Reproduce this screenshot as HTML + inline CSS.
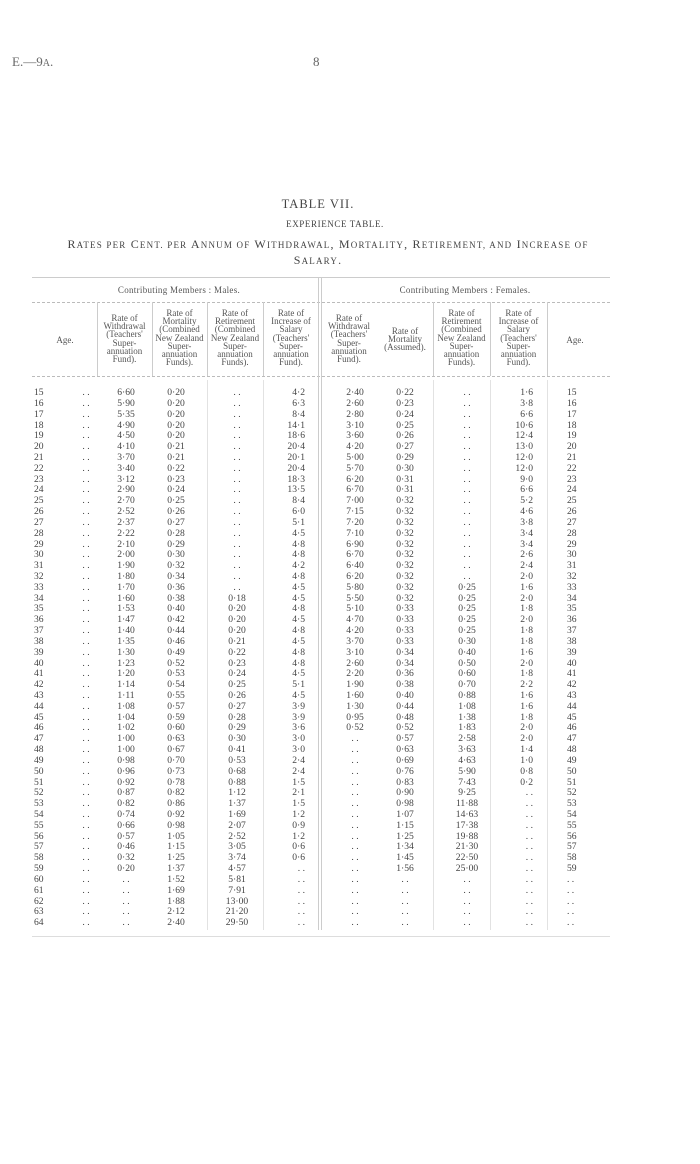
<!DOCTYPE html>
<html><head><meta charset="utf-8"><style>
body{margin:0;background:#fff;}
#p{position:relative;width:700px;height:1164px;background:#fff;font-family:"Liberation Serif",serif;color:#444;overflow:hidden}
.a{position:absolute;white-space:nowrap}
.r{position:absolute;left:0;width:700px;height:11px;font-size:9.6px;line-height:11px}
.r span{position:absolute;text-align:center;top:0}
.c0{left:34px;width:20px;text-align:left!important}
.c1{left:78px;width:16px}
.c2{left:103px;width:46px}
.c3{left:153px;width:46px}
.c4{left:214px;width:46px}
.c5{left:255px;width:50px;text-align:right!important}
.c6{left:331px;width:48px}
.c7{left:381px;width:48px}
.c8{left:443px;width:48px}
.c9{left:483px;width:50px;text-align:right!important}
.c10{left:567px;width:20px;text-align:left!important}
.h{position:absolute;font-size:9px;line-height:8.2px;text-align:center;color:#555;white-space:nowrap}
.hl{position:absolute;height:0;border-top:1px dashed #bbb}
.vl{position:absolute;width:0;border-left:1px solid #ccc}
.sc{font-size:9px}
</style></head><body><div id="p">
<div class="a" style="left:12px;top:54px;font-size:13px;color:#666">E.—9<span style="font-size:10px">A</span>.</div>
<div class="a" style="left:313px;top:54px;font-size:13px;color:#666">8</div>
<div class="a" style="left:280px;width:76px;text-align:center;top:197px;font-size:12.5px;letter-spacing:1px">TABLE VII.</div>
<div class="a" style="left:286px;width:98px;text-align:center;top:219px;font-size:9px;letter-spacing:0.6px">EXPERIENCE TABLE.</div>
<div class="a" style="left:28px;width:600px;text-align:center;top:237px;font-size:12px;letter-spacing:1.2px">R<span class="sc">ATES PER</span> C<span class="sc">ENT. PER</span> A<span class="sc">NNUM OF</span> W<span class="sc">ITHDRAWAL</span>, M<span class="sc">ORTALITY</span>, R<span class="sc">ETIREMENT, AND</span> I<span class="sc">NCREASE OF</span></div>
<div class="a" style="left:268px;width:100px;text-align:center;top:253px;font-size:12px;letter-spacing:1.2px">S<span class="sc">ALARY</span>.</div>

<div class="hl" style="left:32px;width:578px;top:277px;border-top-style:solid;border-color:#ccc"></div>
<div class="h" style="left:98px;width:162px;top:286px;letter-spacing:0.3px">Contributing Members : Males.</div>
<div class="h" style="left:330px;width:270px;top:286px;letter-spacing:0.3px">Contributing Members : Females.</div>
<div class="hl" style="left:32px;width:578px;top:302px"></div>
<div class="hl" style="left:32px;width:578px;top:376px"></div>
<div class="vl" style="left:97px;top:302px;height:74px"></div>
<div class="vl" style="left:152px;top:302px;height:74px"></div>
<div class="vl" style="left:207px;top:302px;height:74px"></div>
<div class="vl" style="left:263px;top:302px;height:74px"></div>
<div class="vl" style="left:318px;top:277px;height:653px"></div>
<div class="vl" style="left:321px;top:277px;height:653px"></div>
<div class="vl" style="left:433px;top:302px;height:74px"></div>
<div class="vl" style="left:490px;top:302px;height:74px"></div>
<div class="vl" style="left:547px;top:302px;height:74px"></div>
<div class="vl" style="left:207px;top:380px;height:550px;border-color:#e2e2e2"></div>
<div class="vl" style="left:263px;top:380px;height:550px;border-color:#e2e2e2"></div>
<div class="vl" style="left:433px;top:380px;height:550px;border-color:#e2e2e2"></div>
<div class="vl" style="left:490px;top:380px;height:550px;border-color:#e2e2e2"></div>
<div class="vl" style="left:547px;top:380px;height:550px;border-color:#e2e2e2"></div>

<div class="h" style="left:32px;width:66px;top:336px">Age.</div>
<div class="h" style="left:97px;width:55px;top:314px">Rate of<br>Withdrawal<br>(Teachers'<br>Super-<br>annuation<br>Fund).</div>
<div class="h" style="left:152px;width:55px;top:309px">Rate of<br>Mortality<br>(Combined<br>New Zealand<br>Super-<br>annuation<br>Funds).</div>
<div class="h" style="left:207px;width:56px;top:309px">Rate of<br>Retirement<br>(Combined<br>New Zealand<br>Super-<br>annuation<br>Funds).</div>
<div class="h" style="left:263px;width:56px;top:309px">Rate of<br>Increase of<br>Salary<br>(Teachers'<br>Super-<br>annuation<br>Fund).</div>
<div class="h" style="left:321px;width:56px;top:314px">Rate of<br>Withdrawal<br>(Teachers'<br>Super-<br>annuation<br>Fund).</div>
<div class="h" style="left:377px;width:56px;top:327px">Rate of<br>Mortality<br>(Assumed).</div>
<div class="h" style="left:433px;width:57px;top:309px">Rate of<br>Retirement<br>(Combined<br>New Zealand<br>Super-<br>annuation<br>Funds).</div>
<div class="h" style="left:490px;width:57px;top:309px">Rate of<br>Increase of<br>Salary<br>(Teachers'<br>Super-<br>annuation<br>Fund).</div>
<div class="h" style="left:547px;width:56px;top:336px">Age.</div>

<div class="r" style="top:387px"><span class="c0">15</span><span class="c1">. .</span><span class="c2">6·60</span><span class="c3">0·20</span><span class="c4">. .</span><span class="c5">4·2</span><span class="c6">2·40</span><span class="c7">0·22</span><span class="c8">. .</span><span class="c9">1·6</span><span class="c10">15</span></div>
<div class="r" style="top:397.8px"><span class="c0">16</span><span class="c1">. .</span><span class="c2">5·90</span><span class="c3">0·20</span><span class="c4">. .</span><span class="c5">6·3</span><span class="c6">2·60</span><span class="c7">0·23</span><span class="c8">. .</span><span class="c9">3·8</span><span class="c10">16</span></div>
<div class="r" style="top:408.6px"><span class="c0">17</span><span class="c1">. .</span><span class="c2">5·35</span><span class="c3">0·20</span><span class="c4">. .</span><span class="c5">8·4</span><span class="c6">2·80</span><span class="c7">0·24</span><span class="c8">. .</span><span class="c9">6·6</span><span class="c10">17</span></div>
<div class="r" style="top:419.5px"><span class="c0">18</span><span class="c1">. .</span><span class="c2">4·90</span><span class="c3">0·20</span><span class="c4">. .</span><span class="c5">14·1</span><span class="c6">3·10</span><span class="c7">0·25</span><span class="c8">. .</span><span class="c9">10·6</span><span class="c10">18</span></div>
<div class="r" style="top:430.3px"><span class="c0">19</span><span class="c1">. .</span><span class="c2">4·50</span><span class="c3">0·20</span><span class="c4">. .</span><span class="c5">18·6</span><span class="c6">3·60</span><span class="c7">0·26</span><span class="c8">. .</span><span class="c9">12·4</span><span class="c10">19</span></div>
<div class="r" style="top:441.1px"><span class="c0">20</span><span class="c1">. .</span><span class="c2">4·10</span><span class="c3">0·21</span><span class="c4">. .</span><span class="c5">20·4</span><span class="c6">4·20</span><span class="c7">0·27</span><span class="c8">. .</span><span class="c9">13·0</span><span class="c10">20</span></div>
<div class="r" style="top:451.9px"><span class="c0">21</span><span class="c1">. .</span><span class="c2">3·70</span><span class="c3">0·21</span><span class="c4">. .</span><span class="c5">20·1</span><span class="c6">5·00</span><span class="c7">0·29</span><span class="c8">. .</span><span class="c9">12·0</span><span class="c10">21</span></div>
<div class="r" style="top:462.7px"><span class="c0">22</span><span class="c1">. .</span><span class="c2">3·40</span><span class="c3">0·22</span><span class="c4">. .</span><span class="c5">20·4</span><span class="c6">5·70</span><span class="c7">0·30</span><span class="c8">. .</span><span class="c9">12·0</span><span class="c10">22</span></div>
<div class="r" style="top:473.6px"><span class="c0">23</span><span class="c1">. .</span><span class="c2">3·12</span><span class="c3">0·23</span><span class="c4">. .</span><span class="c5">18·3</span><span class="c6">6·20</span><span class="c7">0·31</span><span class="c8">. .</span><span class="c9">9·0</span><span class="c10">23</span></div>
<div class="r" style="top:484.4px"><span class="c0">24</span><span class="c1">. .</span><span class="c2">2·90</span><span class="c3">0·24</span><span class="c4">. .</span><span class="c5">13·5</span><span class="c6">6·70</span><span class="c7">0·31</span><span class="c8">. .</span><span class="c9">6·6</span><span class="c10">24</span></div>
<div class="r" style="top:495.2px"><span class="c0">25</span><span class="c1">. .</span><span class="c2">2·70</span><span class="c3">0·25</span><span class="c4">. .</span><span class="c5">8·4</span><span class="c6">7·00</span><span class="c7">0·32</span><span class="c8">. .</span><span class="c9">5·2</span><span class="c10">25</span></div>
<div class="r" style="top:506px"><span class="c0">26</span><span class="c1">. .</span><span class="c2">2·52</span><span class="c3">0·26</span><span class="c4">. .</span><span class="c5">6·0</span><span class="c6">7·15</span><span class="c7">0·32</span><span class="c8">. .</span><span class="c9">4·6</span><span class="c10">26</span></div>
<div class="r" style="top:516.8px"><span class="c0">27</span><span class="c1">. .</span><span class="c2">2·37</span><span class="c3">0·27</span><span class="c4">. .</span><span class="c5">5·1</span><span class="c6">7·20</span><span class="c7">0·32</span><span class="c8">. .</span><span class="c9">3·8</span><span class="c10">27</span></div>
<div class="r" style="top:527.7px"><span class="c0">28</span><span class="c1">. .</span><span class="c2">2·22</span><span class="c3">0·28</span><span class="c4">. .</span><span class="c5">4·5</span><span class="c6">7·10</span><span class="c7">0·32</span><span class="c8">. .</span><span class="c9">3·4</span><span class="c10">28</span></div>
<div class="r" style="top:538.5px"><span class="c0">29</span><span class="c1">. .</span><span class="c2">2·10</span><span class="c3">0·29</span><span class="c4">. .</span><span class="c5">4·8</span><span class="c6">6·90</span><span class="c7">0·32</span><span class="c8">. .</span><span class="c9">3·4</span><span class="c10">29</span></div>
<div class="r" style="top:549.3px"><span class="c0">30</span><span class="c1">. .</span><span class="c2">2·00</span><span class="c3">0·30</span><span class="c4">. .</span><span class="c5">4·8</span><span class="c6">6·70</span><span class="c7">0·32</span><span class="c8">. .</span><span class="c9">2·6</span><span class="c10">30</span></div>
<div class="r" style="top:560.1px"><span class="c0">31</span><span class="c1">. .</span><span class="c2">1·90</span><span class="c3">0·32</span><span class="c4">. .</span><span class="c5">4·2</span><span class="c6">6·40</span><span class="c7">0·32</span><span class="c8">. .</span><span class="c9">2·4</span><span class="c10">31</span></div>
<div class="r" style="top:570.9px"><span class="c0">32</span><span class="c1">. .</span><span class="c2">1·80</span><span class="c3">0·34</span><span class="c4">. .</span><span class="c5">4·8</span><span class="c6">6·20</span><span class="c7">0·32</span><span class="c8">. .</span><span class="c9">2·0</span><span class="c10">32</span></div>
<div class="r" style="top:581.8px"><span class="c0">33</span><span class="c1">. .</span><span class="c2">1·70</span><span class="c3">0·36</span><span class="c4">. .</span><span class="c5">4·5</span><span class="c6">5·80</span><span class="c7">0·32</span><span class="c8">0·25</span><span class="c9">1·6</span><span class="c10">33</span></div>
<div class="r" style="top:592.6px"><span class="c0">34</span><span class="c1">. .</span><span class="c2">1·60</span><span class="c3">0·38</span><span class="c4">0·18</span><span class="c5">4·5</span><span class="c6">5·50</span><span class="c7">0·32</span><span class="c8">0·25</span><span class="c9">2·0</span><span class="c10">34</span></div>
<div class="r" style="top:603.4px"><span class="c0">35</span><span class="c1">. .</span><span class="c2">1·53</span><span class="c3">0·40</span><span class="c4">0·20</span><span class="c5">4·8</span><span class="c6">5·10</span><span class="c7">0·33</span><span class="c8">0·25</span><span class="c9">1·8</span><span class="c10">35</span></div>
<div class="r" style="top:614.2px"><span class="c0">36</span><span class="c1">. .</span><span class="c2">1·47</span><span class="c3">0·42</span><span class="c4">0·20</span><span class="c5">4·5</span><span class="c6">4·70</span><span class="c7">0·33</span><span class="c8">0·25</span><span class="c9">2·0</span><span class="c10">36</span></div>
<div class="r" style="top:625px"><span class="c0">37</span><span class="c1">. .</span><span class="c2">1·40</span><span class="c3">0·44</span><span class="c4">0·20</span><span class="c5">4·8</span><span class="c6">4·20</span><span class="c7">0·33</span><span class="c8">0·25</span><span class="c9">1·8</span><span class="c10">37</span></div>
<div class="r" style="top:635.9px"><span class="c0">38</span><span class="c1">. .</span><span class="c2">1·35</span><span class="c3">0·46</span><span class="c4">0·21</span><span class="c5">4·5</span><span class="c6">3·70</span><span class="c7">0·33</span><span class="c8">0·30</span><span class="c9">1·8</span><span class="c10">38</span></div>
<div class="r" style="top:646.7px"><span class="c0">39</span><span class="c1">. .</span><span class="c2">1·30</span><span class="c3">0·49</span><span class="c4">0·22</span><span class="c5">4·8</span><span class="c6">3·10</span><span class="c7">0·34</span><span class="c8">0·40</span><span class="c9">1·6</span><span class="c10">39</span></div>
<div class="r" style="top:657.5px"><span class="c0">40</span><span class="c1">. .</span><span class="c2">1·23</span><span class="c3">0·52</span><span class="c4">0·23</span><span class="c5">4·8</span><span class="c6">2·60</span><span class="c7">0·34</span><span class="c8">0·50</span><span class="c9">2·0</span><span class="c10">40</span></div>
<div class="r" style="top:668.3px"><span class="c0">41</span><span class="c1">. .</span><span class="c2">1·20</span><span class="c3">0·53</span><span class="c4">0·24</span><span class="c5">4·5</span><span class="c6">2·20</span><span class="c7">0·36</span><span class="c8">0·60</span><span class="c9">1·8</span><span class="c10">41</span></div>
<div class="r" style="top:679.1px"><span class="c0">42</span><span class="c1">. .</span><span class="c2">1·14</span><span class="c3">0·54</span><span class="c4">0·25</span><span class="c5">5·1</span><span class="c6">1·90</span><span class="c7">0·38</span><span class="c8">0·70</span><span class="c9">2·2</span><span class="c10">42</span></div>
<div class="r" style="top:690px"><span class="c0">43</span><span class="c1">. .</span><span class="c2">1·11</span><span class="c3">0·55</span><span class="c4">0·26</span><span class="c5">4·5</span><span class="c6">1·60</span><span class="c7">0·40</span><span class="c8">0·88</span><span class="c9">1·6</span><span class="c10">43</span></div>
<div class="r" style="top:700.8px"><span class="c0">44</span><span class="c1">. .</span><span class="c2">1·08</span><span class="c3">0·57</span><span class="c4">0·27</span><span class="c5">3·9</span><span class="c6">1·30</span><span class="c7">0·44</span><span class="c8">1·08</span><span class="c9">1·6</span><span class="c10">44</span></div>
<div class="r" style="top:711.6px"><span class="c0">45</span><span class="c1">. .</span><span class="c2">1·04</span><span class="c3">0·59</span><span class="c4">0·28</span><span class="c5">3·9</span><span class="c6">0·95</span><span class="c7">0·48</span><span class="c8">1·38</span><span class="c9">1·8</span><span class="c10">45</span></div>
<div class="r" style="top:722.4px"><span class="c0">46</span><span class="c1">. .</span><span class="c2">1·02</span><span class="c3">0·60</span><span class="c4">0·29</span><span class="c5">3·6</span><span class="c6">0·52</span><span class="c7">0·52</span><span class="c8">1·83</span><span class="c9">2·0</span><span class="c10">46</span></div>
<div class="r" style="top:733.2px"><span class="c0">47</span><span class="c1">. .</span><span class="c2">1·00</span><span class="c3">0·63</span><span class="c4">0·30</span><span class="c5">3·0</span><span class="c6">. .</span><span class="c7">0·57</span><span class="c8">2·58</span><span class="c9">2·0</span><span class="c10">47</span></div>
<div class="r" style="top:744.1px"><span class="c0">48</span><span class="c1">. .</span><span class="c2">1·00</span><span class="c3">0·67</span><span class="c4">0·41</span><span class="c5">3·0</span><span class="c6">. .</span><span class="c7">0·63</span><span class="c8">3·63</span><span class="c9">1·4</span><span class="c10">48</span></div>
<div class="r" style="top:754.9px"><span class="c0">49</span><span class="c1">. .</span><span class="c2">0·98</span><span class="c3">0·70</span><span class="c4">0·53</span><span class="c5">2·4</span><span class="c6">. .</span><span class="c7">0·69</span><span class="c8">4·63</span><span class="c9">1·0</span><span class="c10">49</span></div>
<div class="r" style="top:765.7px"><span class="c0">50</span><span class="c1">. .</span><span class="c2">0·96</span><span class="c3">0·73</span><span class="c4">0·68</span><span class="c5">2·4</span><span class="c6">. .</span><span class="c7">0·76</span><span class="c8">5·90</span><span class="c9">0·8</span><span class="c10">50</span></div>
<div class="r" style="top:776.5px"><span class="c0">51</span><span class="c1">. .</span><span class="c2">0·92</span><span class="c3">0·78</span><span class="c4">0·88</span><span class="c5">1·5</span><span class="c6">. .</span><span class="c7">0·83</span><span class="c8">7·43</span><span class="c9">0·2</span><span class="c10">51</span></div>
<div class="r" style="top:787.3px"><span class="c0">52</span><span class="c1">. .</span><span class="c2">0·87</span><span class="c3">0·82</span><span class="c4">1·12</span><span class="c5">2·1</span><span class="c6">. .</span><span class="c7">0·90</span><span class="c8">9·25</span><span class="c9">. .</span><span class="c10">52</span></div>
<div class="r" style="top:798.2px"><span class="c0">53</span><span class="c1">. .</span><span class="c2">0·82</span><span class="c3">0·86</span><span class="c4">1·37</span><span class="c5">1·5</span><span class="c6">. .</span><span class="c7">0·98</span><span class="c8">11·88</span><span class="c9">. .</span><span class="c10">53</span></div>
<div class="r" style="top:809px"><span class="c0">54</span><span class="c1">. .</span><span class="c2">0·74</span><span class="c3">0·92</span><span class="c4">1·69</span><span class="c5">1·2</span><span class="c6">. .</span><span class="c7">1·07</span><span class="c8">14·63</span><span class="c9">. .</span><span class="c10">54</span></div>
<div class="r" style="top:819.8px"><span class="c0">55</span><span class="c1">. .</span><span class="c2">0·66</span><span class="c3">0·98</span><span class="c4">2·07</span><span class="c5">0·9</span><span class="c6">. .</span><span class="c7">1·15</span><span class="c8">17·38</span><span class="c9">. .</span><span class="c10">55</span></div>
<div class="r" style="top:830.6px"><span class="c0">56</span><span class="c1">. .</span><span class="c2">0·57</span><span class="c3">1·05</span><span class="c4">2·52</span><span class="c5">1·2</span><span class="c6">. .</span><span class="c7">1·25</span><span class="c8">19·88</span><span class="c9">. .</span><span class="c10">56</span></div>
<div class="r" style="top:841.4px"><span class="c0">57</span><span class="c1">. .</span><span class="c2">0·46</span><span class="c3">1·15</span><span class="c4">3·05</span><span class="c5">0·6</span><span class="c6">. .</span><span class="c7">1·34</span><span class="c8">21·30</span><span class="c9">. .</span><span class="c10">57</span></div>
<div class="r" style="top:852.3px"><span class="c0">58</span><span class="c1">. .</span><span class="c2">0·32</span><span class="c3">1·25</span><span class="c4">3·74</span><span class="c5">0·6</span><span class="c6">. .</span><span class="c7">1·45</span><span class="c8">22·50</span><span class="c9">. .</span><span class="c10">58</span></div>
<div class="r" style="top:863.1px"><span class="c0">59</span><span class="c1">. .</span><span class="c2">0·20</span><span class="c3">1·37</span><span class="c4">4·57</span><span class="c5">. .</span><span class="c6">. .</span><span class="c7">1·56</span><span class="c8">25·00</span><span class="c9">. .</span><span class="c10">59</span></div>
<div class="r" style="top:873.9px"><span class="c0">60</span><span class="c1">. .</span><span class="c2">. .</span><span class="c3">1·52</span><span class="c4">5·81</span><span class="c5">. .</span><span class="c6">. .</span><span class="c7">. .</span><span class="c8">. .</span><span class="c9">. .</span><span class="c10">. .</span></div>
<div class="r" style="top:884.7px"><span class="c0">61</span><span class="c1">. .</span><span class="c2">. .</span><span class="c3">1·69</span><span class="c4">7·91</span><span class="c5">. .</span><span class="c6">. .</span><span class="c7">. .</span><span class="c8">. .</span><span class="c9">. .</span><span class="c10">. .</span></div>
<div class="r" style="top:895.5px"><span class="c0">62</span><span class="c1">. .</span><span class="c2">. .</span><span class="c3">1·88</span><span class="c4">13·00</span><span class="c5">. .</span><span class="c6">. .</span><span class="c7">. .</span><span class="c8">. .</span><span class="c9">. .</span><span class="c10">. .</span></div>
<div class="r" style="top:906.4px"><span class="c0">63</span><span class="c1">. .</span><span class="c2">. .</span><span class="c3">2·12</span><span class="c4">21·20</span><span class="c5">. .</span><span class="c6">. .</span><span class="c7">. .</span><span class="c8">. .</span><span class="c9">. .</span><span class="c10">. .</span></div>
<div class="r" style="top:917.2px"><span class="c0">64</span><span class="c1">. .</span><span class="c2">. .</span><span class="c3">2·40</span><span class="c4">29·50</span><span class="c5">. .</span><span class="c6">. .</span><span class="c7">. .</span><span class="c8">. .</span><span class="c9">. .</span><span class="c10">. .</span></div>
<div class="hl" style="left:32px;width:578px;top:936px;border-top-style:solid;border-color:#ddd"></div>
</div></body></html>
